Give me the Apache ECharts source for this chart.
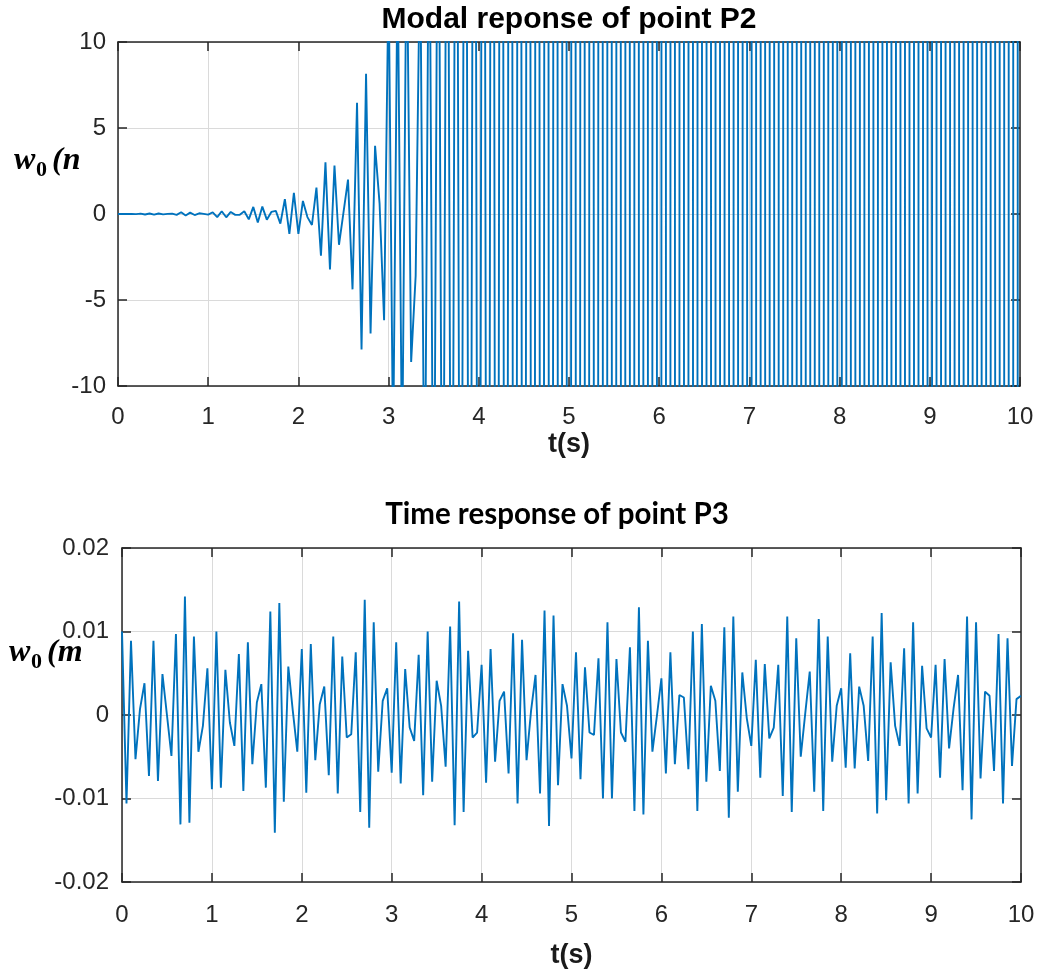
<!DOCTYPE html>
<html>
<head>
<meta charset="utf-8">
<script src="https://cdn.jsdelivr.net/npm/echarts@6/dist/echarts.min.js"></script>
<style>
html,body{margin:0;padding:0;background:#fff;}
#chart{width:1039px;height:974px;}
</style>
</head>
<body>
<div id="chart"></div>
<script>
// ---- data (sampling step 0.05 s) ----
const dt = 0.05;
const xTicks = [0, 1, 2, 3, 4, 5, 6, 7, 8, 9, 10];
const yTicksP2 = [-10, -5, 0, 5, 10];
const yTicksP3 = [-0.02, -0.01, 0, 0.01, 0.02];

// Top: modal response of point P2 (t = 0 .. 10 s)
const p2Early = [0, 0, 0, 0.01, -0.01, 0.02, -0.03, 0.03, -0.04, 0.03,
  -0.02, 0.01, 0.02, -0.05, 0.10, -0.09, 0.08, -0.06, 0.04, 0.01];
const p2Growth = [-0.04, 0.10, -0.18, 0.16, -0.19, 0.12, -0.05, -0.04, 0.16, -0.31,
  0.41, -0.49, 0.43, -0.33, 0.12, 0.18, -0.56, 0.86, -1.15, 1.23,
  -1.15, 0.76, -0.18, -0.64, 1.54, -2.43, 3.00, -3.23, 2.82, -1.79,
  0.10, 2.00, -4.38, 6.46, -7.88, 8.15, -6.95, 3.97, 0.6, -6.17];
const p2Burst = [14, -14, 15, -15, 17, -8.6, -3.6, 16];
const p2Saturated = [-20, 22, -25, 28, -30, 34, -37, 41, -45, 50, -54, 60,
  -65, 71, -78, 85, -92, 100, -108, 117, -126, 136, -146, 157, -168, 180, -192, 205, -218, 232, -246, 261,
  -276, 292, -308, 325, -342, 360, -378, 397, -416, 436, -456, 477, -498, 520, -542, 565, -588, 612, -636, 661,
  -686, 712, -738, 765, -792, 820, -848, 877, -906, 936, -966, 997, -1028, 1060, -1092, 1125, -1158, 1192, -1226, 1261,
  -1296, 1332, -1368, 1405, -1442, 1480, -1518, 1557, -1596, 1636, -1676, 1717, -1758, 1800, -1842, 1885, -1928, 1972, -2016, 2061,
  -2106, 2152, -2198, 2245, -2292, 2340, -2388, 2437, -2486, 2536, -2586, 2637, -2688, 2740, -2792, 2845, -2898, 2952, -3006, 3061,
  -3116, 3172, -3228, 3285, -3342, 3400, -3458, 3517, -3576, 3636, -3696, 3757, -3818, 3880, -3942, 4005, -4068, 4132, -4196, 4261,
  -4326];

// Bottom: time response of point P3 (t = 0 .. 10 s)
const p3Seg1 = [0.0100, -0.0106, 0.0089, -0.0053, 0.0007, 0.0038, -0.0073, 0.0089, -0.0079, 0.0049,
  0.0000, -0.0049, 0.0097, -0.0131, 0.0142, -0.0129, 0.0094, -0.0044, -0.0013, 0.0056,
  -0.0089, 0.0100, -0.0087, 0.0054, -0.0009, -0.0037, 0.0073, -0.0091, 0.0087, -0.0059,
  0.0015, 0.0037, -0.0087, 0.0124, -0.0141, 0.0134, -0.0104, 0.0058, 0.0005, -0.0044];
const p3Seg2 = [0.0079, -0.0093, 0.0085, -0.0054, 0.0013, 0.0034, -0.0072, 0.0094, -0.0094, 0.0070,
  -0.0027, -0.0023, 0.0075, -0.0116, 0.0138, -0.0135, 0.0111, -0.0068, 0.0017, 0.0032,
  -0.0069, 0.0087, -0.0082, 0.0055, -0.0015, -0.0031, 0.0072, -0.0096, 0.0100, -0.0080,
  0.0041, 0.0011, -0.0062, 0.0106, -0.0132, 0.0136, -0.0116, 0.0077, -0.0027, -0.0021];
const p3Seg3 = [0.0060, -0.0081, 0.0079, -0.0056, 0.0017, 0.0028, -0.0070, 0.0098, -0.0106, 0.0090,
  -0.0054, 0.0005, 0.0048, -0.0094, 0.0125, -0.0133, 0.0119, -0.0084, 0.0037, 0.0011,
  -0.0052, 0.0075, -0.0077, 0.0057, -0.0021, -0.0024, 0.0068, -0.0100, 0.0111, -0.0100,
  0.0067, -0.0021, -0.0032, 0.0081, -0.0115, 0.0129, -0.0119, 0.0089, -0.0044, -0.0001];
const p3Seg4 = [0.0044, -0.0070, 0.0075, -0.0059, 0.0024, 0.0021, -0.0065, 0.0100, -0.0115, 0.0109,
  -0.0080, 0.0035, 0.0017, -0.0067, 0.0105, -0.0123, 0.0118, -0.0092, 0.0051, -0.0004,
  -0.0037, 0.0066, -0.0075, 0.0061, -0.0028, -0.0015, 0.0060, -0.0097, 0.0118, -0.0116,
  0.0092, -0.0050, 0.0002, 0.0052, -0.0092, 0.0115, -0.0115, 0.0094, -0.0056, 0.0011];
const p3Seg5 = [0.0032, -0.0063, 0.0074, -0.0064, 0.0034, 0.0011, -0.0055, 0.0094, -0.0118, 0.0122,
  -0.0102, 0.0063, -0.0013, -0.0037, 0.0080, -0.0106, 0.0111, -0.0094, 0.0059, -0.0016,
  -0.0027, 0.0060, -0.0075, 0.0067, -0.0040, 0.0008, 0.0048, -0.0090, 0.0118, -0.0125,
  0.0111, -0.0076, 0.0028, 0.0023, -0.0067, 0.0097, -0.0106, 0.0092, -0.0061, 0.0019,
  0.0023];

const p2Values = [].concat(p2Early, p2Growth, p2Burst, p2Saturated);
const p3Values = [].concat(p3Seg1, p3Seg2, p3Seg3, p3Seg4, p3Seg5);
const toPairs = vals => vals.map((v, i) => [+(i * dt).toFixed(2), v]);

// ---- styles ----
const AX = '#262626';
const GRID = '#dadada';
const LINE = '#0072BD';
const tickFont = {fontFamily: 'Liberation Sans, Arial, sans-serif', fontSize: 24, color: AX};

function xAxisPair(gi, margin, gap) {
  const base = {type: 'value', gridIndex: gi, min: xTicks[0], max: xTicks[xTicks.length - 1], interval: 1};
  return [
    Object.assign({}, base, {
      position: 'bottom',
      axisLine: {show: true, onZero: false, lineStyle: {color: AX, width: 1.5}},
      axisTick: {show: true, inside: true, length: 9, lineStyle: {color: AX, width: 1.5}},
      axisLabel: Object.assign({margin: margin, formatter: v => String(v)}, tickFont),
      splitLine: {show: true, lineStyle: {color: GRID, width: 1}},
      name: 't(s)', nameLocation: 'middle', nameGap: gap,
      nameTextStyle: {fontFamily: 'Liberation Sans, Arial, sans-serif', fontWeight: 'bold', fontSize: 27, color: '#1a1a1a'}
    }),
    Object.assign({}, base, {
      position: 'top',
      axisLine: {show: true, onZero: false, lineStyle: {color: AX, width: 1.5}},
      axisTick: {show: true, inside: true, length: 9, lineStyle: {color: AX, width: 1.5}},
      axisLabel: {show: false},
      splitLine: {show: false}
    })
  ];
}
function yAxisPair(gi, ticks, margin, fmt) {
  const base = {type: 'value', gridIndex: gi, min: ticks[0], max: ticks[ticks.length - 1], interval: ticks[1] - ticks[0]};
  return [
    Object.assign({}, base, {
      position: 'left',
      axisLine: {show: true, onZero: false, lineStyle: {color: AX, width: 1.5}},
      axisTick: {show: true, inside: true, length: 9, lineStyle: {color: AX, width: 1.5}},
      axisLabel: Object.assign({margin: margin, formatter: fmt}, tickFont),
      splitLine: {show: true, lineStyle: {color: GRID, width: 1}}
    }),
    Object.assign({}, base, {
      position: 'right',
      axisLine: {show: true, onZero: false, lineStyle: {color: AX, width: 1.5}},
      axisTick: {show: true, inside: true, length: 9, lineStyle: {color: AX, width: 1.5}},
      axisLabel: {show: false},
      splitLine: {show: false}
    })
  ];
}

const serifBI = 'italic bold 32px "Liberation Serif", "DejaVu Serif", serif';
const serifSub = 'bold 22px "Liberation Serif", "DejaVu Serif", serif';

const option = {
  animation: false,
  backgroundColor: '#fff',
  title: [
    {text: 'Modal reponse of point P2', left: 564, top: 0, textAlign: 'center',
     textStyle: {fontFamily: 'Liberation Sans, Arial, sans-serif', fontWeight: 'bold', fontSize: 30, color: '#000'}},
    {text: 'Time response of point P3', left: 552, top: 494, textAlign: 'center',
     textStyle: {fontFamily: 'Lato, "Open Sans", sans-serif', fontWeight: 'bold', fontSize: 29.5, color: '#000'}}
  ],
  grid: [
    {left: 118, top: 42, width: 902, height: 344, containLabel: false},
    {left: 122, top: 548, width: 899, height: 334, containLabel: false}
  ],
  xAxis: [].concat(xAxisPair(0, 19, 45), xAxisPair(1, 21, 60)),
  yAxis: [].concat(
    yAxisPair(0, yTicksP2, 12, v => String(Math.round(v))),
    yAxisPair(1, yTicksP3, 13, v => (Math.abs(v) < 1e-9 ? '0' : v.toFixed(2)))
  ),
  series: [
    {type: 'line', xAxisIndex: 0, yAxisIndex: 0, data: toPairs(p2Values), showSymbol: false,
     symbol: 'none', clip: true, lineStyle: {color: LINE, width: 1.9}, z: 3},
    {type: 'line', xAxisIndex: 2, yAxisIndex: 2, data: toPairs(p3Values), showSymbol: false,
     symbol: 'none', clip: true, lineStyle: {color: LINE, width: 1.9}, z: 3}
  ],
  graphic: [
    {type: 'text', z: 100, style: {x: 14, y: 145, text: 'w', font: serifBI, fill: '#000'}},
    {type: 'text', z: 100, style: {x: 36, y: 159, text: '0', font: serifSub, fill: '#000'}},
    {type: 'text', z: 100, style: {x: 52, y: 145, text: '(n', font: serifBI, fill: '#000'}},
    {type: 'text', z: 100, style: {x: 9, y: 637, text: 'w', font: serifBI, fill: '#000'}},
    {type: 'text', z: 100, style: {x: 31, y: 651, text: '0', font: serifSub, fill: '#000'}},
    {type: 'text', z: 100, style: {x: 47, y: 637, text: '(m', font: serifBI, fill: '#000'}}
  ]
};

const chart = echarts.init(document.getElementById('chart'), null, {renderer: 'canvas'});
chart.setOption(option);
</script>
</body>
</html>
